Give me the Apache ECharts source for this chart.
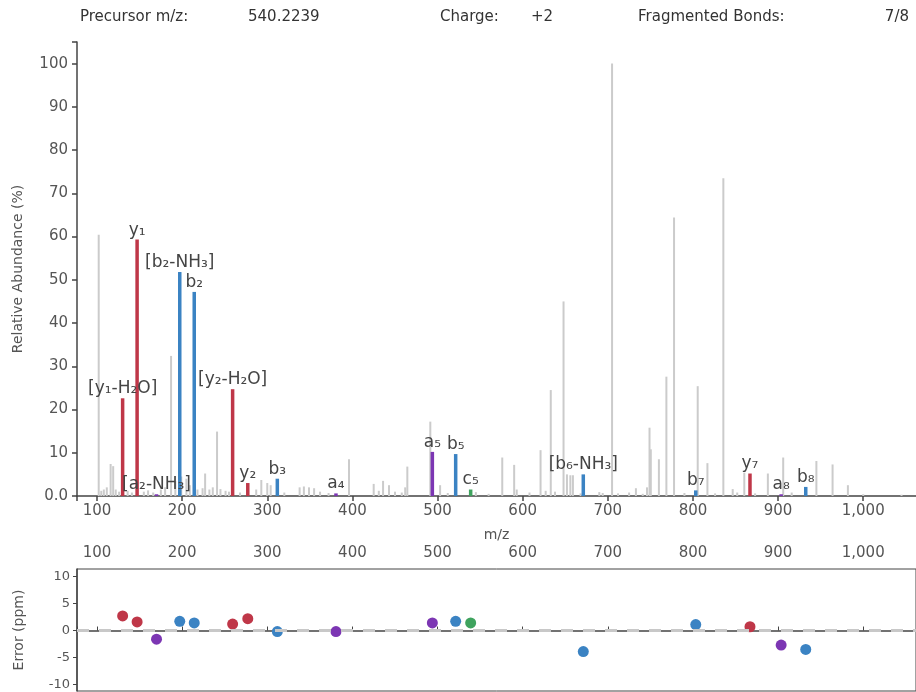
<!DOCTYPE html>
<html>
<head>
<meta charset="utf-8">
<script src="https://cdn.jsdelivr.net/npm/echarts@6/dist/echarts.min.js"></script>
<style>
  html, body { margin: 0; padding: 0; background: #fff; }
  #chart { width: 916px; height: 692px; }
</style>
</head>
<body>
<div id="chart"></div>
<script>
// Annotated fragment ions
const ionLabels = ['[y₁-H₂O]', 'y₁', '[a₂-NH₃]', '[b₂-NH₃]', 'b₂', '[y₂-H₂O]', 'y₂', 'b₃', 'a₄',
  'a₅', 'b₅', 'c₅', '[b₆-NH₃]', 'b₇', 'y₇', 'a₈', 'b₈'];
const ionType = ['y', 'y', 'a', 'b', 'b', 'y', 'y', 'b', 'a', 'a', 'b', 'c', 'b', 'b', 'y', 'a', 'b'];
const ionMz = [130.1, 147.1, 169.9, 197.2, 214.2, 259.3, 277.1, 311.8, 380.7,
  493.9, 521.3, 538.9, 671.2, 803.3, 867.0, 903.6, 932.5];
const ionIntensity = [22.6, 59.3, 0.4, 51.8, 47.2, 24.7, 3.0, 4.0, 0.6,
  10.2, 9.7, 1.5, 5.0, 1.3, 5.2, 0.4, 2.1];
const ionErrorPpm = [2.7, 1.6, -1.6, 1.7, 1.4, 1.2, 2.2, -0.2, -0.2,
  1.4, 1.7, 1.4, -3.9, 1.1, 0.7, -2.7, -3.5];

// Unassigned peaks
const peakMz = [102, 105, 108, 111.5, 116, 119, 122, 126, 136, 141, 155, 160, 166, 175, 180, 187, 192,
  199, 205, 209, 218, 224, 227, 232, 236, 241, 245, 251, 255, 268, 287, 293, 300, 304, 320, 338, 343,
  349, 355, 362, 372, 396, 425, 431, 436, 443, 450, 458, 462, 464.5, 491.5, 503, 512, 545, 560, 576,
  590, 593, 608, 621, 627, 633, 638, 648, 652, 656, 659, 668, 690, 694, 705, 712, 725, 733, 741, 746,
  749, 750.5, 760, 768.8, 777.8, 790, 805.6, 817, 826, 835.7, 846.7, 852, 860.3, 873, 888, 906, 916,
  945, 964, 982, 1000, 1045];
const peakIntensity = [60.4, 1.2, 1.5, 2.0, 7.4, 6.9, 1.5, 1.0, 1.2, 0.8, 1.0, 1.3, 0.8, 1.5, 2.0, 32.4, 3.5,
  4.5, 4.0, 2.5, 1.5, 1.8, 5.2, 1.5, 2.0, 14.9, 1.6, 1.2, 1.0, 0.8, 1.5, 3.7, 3.0, 2.5, 0.8, 2.0, 2.2,
  2.0, 1.8, 1.0, 0.7, 8.5, 2.8, 1.2, 3.5, 2.5, 1.0, 0.8, 2.0, 6.8, 17.2, 2.5, 0.7, 0.9, 0.5, 8.9,
  7.2, 1.5, 0.8, 10.6, 1.2, 24.5, 1.0, 45.0, 5.0, 4.8, 4.8, 0.6, 0.9, 0.7, 100, 0.6, 0.8, 1.8, 0.5, 2.0,
  15.8, 10.8, 8.5, 27.6, 64.4, 0.7, 25.4, 7.6, 0.6, 73.5, 1.6, 0.8, 5.4, 0.6, 5.2, 8.9, 0.8,
  8.1, 7.3, 2.5, 0.4, 0.3];

// Axis ticks
const mzTicks = [100, 200, 300, 400, 500, 600, 700, 800, 900, 1000];
const abundanceTicks = [0, 10, 20, 30, 40, 50, 60, 70, 80, 90, 100];
const errorTicks = [-10, -5, 0, 5, 10];

// Header values
const precursorMz = '540.2239';
const chargeState = '+2';
const fragmentedBonds = '7/8';

const MZ_MIN = 76.5, MZ_MAX = 1062;
const ionColors = { y: '#bf3748', b: '#3b83c3', a: '#7c36b3', c: '#3fa35e' };
const axisColor = '#444';
const textColor = '#555';
const FONT = 'DejaVu Sans';

function stick(width, colorOf, labelOf) {
  return function (params, api) {
    const x = api.value(0);
    const base = api.coord([x, 0]);
    const top = api.coord([x, api.value(1)]);
    const children = [{
      type: 'rect',
      shape: { x: base[0] - width / 2, y: top[1], width: width, height: base[1] - top[1] },
      style: { fill: colorOf(params.dataIndex) }
    }];
    if (labelOf) {
      children.push({
        type: 'text',
        x: base[0], y: top[1] - 1,
        style: {
          text: labelOf(params.dataIndex), fill: '#444', font: '17px ' + FONT,
          align: 'center', verticalAlign: 'bottom'
        },
        z2: 10
      });
    }
    return { type: 'group', children: children };
  };
}

const chart = echarts.init(document.getElementById('chart'), null, { renderer: 'canvas' });

const headerStyle = { fill: '#333', font: '15px ' + FONT };
function headerText(x, text, align) {
  return { type: 'text', x: x, y: 17, style: Object.assign({ text: text, align: align || 'left', verticalAlign: 'middle' }, headerStyle) };
}

chart.setOption({
  animation: false,
  textStyle: { fontFamily: FONT },
  graphic: [
    headerText(80, 'Precursor m/z:'),
    headerText(248, precursorMz),
    headerText(440, 'Charge:'),
    headerText(531, chargeState),
    headerText(638, 'Fragmented Bonds:'),
    headerText(909, fragmentedBonds, 'right')
  ],
  grid: [
    { left: 77, top: 42, width: 839, height: 454 },
    { left: 77, top: 569, width: 839, height: 122, show: true, borderColor: axisColor, borderWidth: 1 }
  ],
  xAxis: [
    {
      gridIndex: 0, type: 'value', min: MZ_MIN, max: MZ_MAX,
      name: 'm/z', nameLocation: 'middle', nameGap: 32,
      nameTextStyle: { color: textColor, fontSize: 14, fontFamily: FONT },
      axisLine: { lineStyle: { color: axisColor, width: 1.5 } },
      axisTick: { customValues: [MZ_MIN].concat(mzTicks), length: 5, lineStyle: { color: axisColor, width: 1.5 } },
      axisLabel: {
        customValues: mzTicks, color: textColor, fontSize: 15, margin: 8,
        formatter: v => v.toLocaleString('en-US')
      },
      splitLine: { show: false }
    },
    {
      gridIndex: 1, type: 'value', min: MZ_MIN, max: MZ_MAX, position: 'top', offset: 3,
      axisLine: { lineStyle: { color: axisColor, width: 1.5 } },
      axisTick: { customValues: [MZ_MIN].concat(mzTicks), length: 4, lineStyle: { color: axisColor } },
      axisLabel: {
        customValues: mzTicks, color: textColor, fontSize: 15, margin: 5,
        formatter: v => v.toLocaleString('en-US')
      },
      splitLine: { show: false }
    }
  ],
  yAxis: [
    {
      gridIndex: 0, type: 'value', min: 0, max: 105,
      name: 'Relative Abundance (%)', nameLocation: 'middle', nameGap: 52,
      nameTextStyle: { color: textColor, fontSize: 14, fontFamily: FONT },
      axisLine: { show: true, lineStyle: { color: axisColor, width: 1.5 } },
      axisTick: { show: true, customValues: abundanceTicks.concat([105]), length: 5, lineStyle: { color: axisColor, width: 1.5 } },
      axisLabel: {
        customValues: abundanceTicks, color: textColor, fontSize: 15, margin: 9,
        formatter: v => (v === 0 ? '0.0' : String(v))
      },
      splitLine: { show: false }
    },
    {
      gridIndex: 1, type: 'value', min: -11.2, max: 11.4,
      name: 'Error (ppm)', nameLocation: 'middle', nameGap: 51,
      nameTextStyle: { color: textColor, fontSize: 14, fontFamily: FONT },
      axisLine: { show: true, lineStyle: { color: axisColor, width: 1.5 } },
      axisTick: { show: true, customValues: errorTicks, length: 4, lineStyle: { color: axisColor } },
      axisLabel: { customValues: errorTicks, color: textColor, fontSize: 13, margin: 7 },
      splitLine: { show: false }
    }
  ],
  series: [
    {
      type: 'custom', name: 'peaks', xAxisIndex: 0, yAxisIndex: 0,
      renderItem: stick(2, () => '#cbcbcb'),
      data: peakMz.map((m, i) => [m, peakIntensity[i]]),
      z: 1
    },
    {
      type: 'custom', name: 'fragments', xAxisIndex: 0, yAxisIndex: 0,
      renderItem: stick(3.5, i => ionColors[ionType[i]], i => ionLabels[i]),
      data: ionMz.map((m, i) => [m, ionIntensity[i]]),
      z: 3
    },
    {
      type: 'scatter', name: 'error', xAxisIndex: 1, yAxisIndex: 1,
      symbolSize: 11,
      itemStyle: { color: p => ionColors[ionType[p.dataIndex]], opacity: 1 },
      data: ionMz.map((m, i) => [m, ionErrorPpm[i]]),
      markLine: {
        silent: true, symbol: 'none', label: { show: false },
        lineStyle: { color: '#c8c8c8', width: 3, type: [12, 10] },
        data: [{ yAxis: 0 }]
      },
      z: 3
    }
  ]
});
</script>
</body>
</html>
